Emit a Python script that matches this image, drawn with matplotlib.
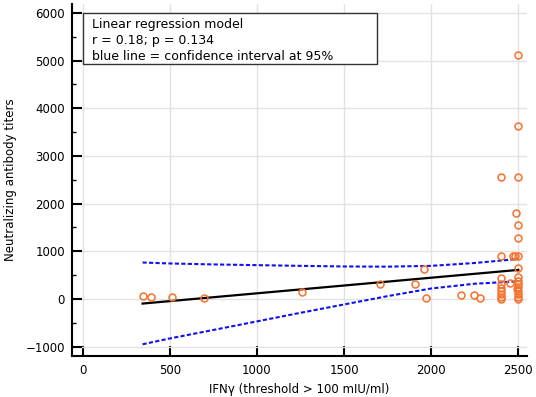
import matplotlib
matplotlib.use("Agg")
import matplotlib.pyplot as plt
from matplotlib.patches import Rectangle

# ---- data ----
ifn = [344, 392, 513, 696, 1259, 1708, 1910, 1957, 1970, 2173, 2247, 2282,
       2400, 2400, 2400, 2400, 2400, 2400, 2400, 2400, 2400,
       2454, 2472, 2480, 2485, 2490,
       2500, 2500, 2500, 2500, 2500, 2500, 2500, 2500, 2500, 2500,
       2500, 2500, 2500, 2500, 2500]
titers = [69, 36, 48, 21, 153, 310, 310, 636, 15, 77, 77, 18,
          2559, 900, 430, 320, 240, 170, 100, 50, 10,
          325, 900, 900, 1811, 200,
          5118, 3622, 2559, 1552, 1273, 900, 640, 455, 371, 320,
          245, 175, 105, 48, 6]

# regression line end points (read)
reg_x = [344, 2500]
reg_y = [-96, 610]

# 95% confidence band
ci_x = [344, 500, 750, 1000, 1250, 1500, 1750, 2000, 2250, 2500]
ci_upper = [765, 745, 725, 710, 695, 682, 678, 695, 755, 840]
ci_lower = [-950, -828, -650, -470, -290, -115, 60, 220, 320, 370]

xticks = [0, 500, 1000, 1500, 2000, 2500]
yticks = [-1000, 0, 1000, 2000, 3000, 4000, 5000, 6000]

box_lines = ["Linear regression model",
             "r = 0.18; p = 0.134",
             "blue line = confidence interval at 95%"]
xlabel = "IFN\u03b3 (threshold > 100 mIU/ml)"
ylabel = "Neutralizing antibody titers"

plt.rcParams['font.family'] = ['DejaVu Sans']

fig = plt.figure(figsize=(5.36, 3.97), dpi=100)
ax = fig.add_axes([72/536, 41/397, (527-72)/536, (393-41)/397])

ax.set_xlim(-61, 2550)
ax.set_ylim(-1196, 6188)

ax.grid(True, color='#e2e2e2', linewidth=1.0, zorder=0)
ax.set_axisbelow(True)

ax.plot(ci_x, ci_upper, color='#1010ee', linewidth=1.5, linestyle=(0, (2, 1.1)), zorder=3)
ax.plot(ci_x, ci_lower, color='#1010ee', linewidth=1.5, linestyle=(0, (2, 1.1)), zorder=3)
ax.plot(reg_x, reg_y, color='black', linewidth=1.6, zorder=3)
ax.plot(ifn, titers, linestyle='none', marker='o', markersize=5,
        markerfacecolor='none', markeredgecolor='#f7712a', markeredgewidth=1.1, zorder=4)

for s in ['top', 'right']:
    ax.spines[s].set_visible(False)
for s in ['left', 'bottom']:
    ax.spines[s].set_linewidth(1.5)

ax.set_xticks(xticks)
ax.set_yticks(yticks)
ax.set_yticks([v + 500 for v in yticks[:-1]], minor=True)
ax.tick_params(axis='both', which='major', direction='in', length=7, width=1.5,
               labelsize=8.5, pad=5)
ax.tick_params(axis='y', which='minor', direction='in', length=3, width=1.0)
ax.tick_params(axis='x', which='major', pad=6)

ax.set_xlabel(xlabel, fontsize=8.5, labelpad=4)
ax.set_ylabel(ylabel, fontsize=8.5, labelpad=6)

# annotation box
ax.add_patch(Rectangle((0, 4923), 1689, 1077, facecolor='white', edgecolor='#333333',
                       linewidth=1.0, zorder=5))
for i, line in enumerate(box_lines):
    ax.text(52, 5760 - i * 335, line, fontsize=9, va='center', ha='left', zorder=6)

fig.savefig("out.png", dpi=100)
